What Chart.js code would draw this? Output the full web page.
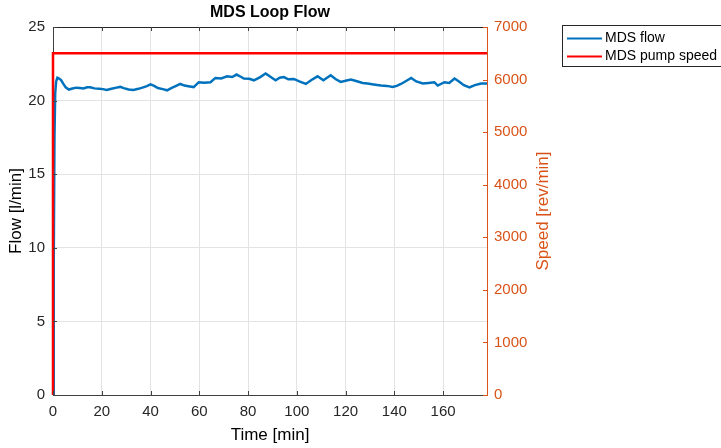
<!DOCTYPE html>
<html>
<head>
<meta charset="utf-8">
<script src="https://cdn.jsdelivr.net/npm/chart.js@4/dist/chart.umd.min.js"></script>
<style>
  html, body { margin: 0; padding: 0; background: #ffffff; }
  #wrap { width: 721px; height: 448px; }
</style>
</head>
<body>
<div id="wrap"><canvas id="c" width="721" height="448"></canvas></div>
<script>
// Logged loop flow (l/min) against elapsed time (min)
const timeMin = [0, 0.3, 0.6, 0.9, 1.3, 1.8, 2.5, 3.3, 4.2, 5.2, 6.5, 8, 9.5, 11, 12.5, 14, 15.2, 17, 19, 20.5,
  22, 24, 26, 27.6, 29, 31, 33, 35, 37, 38.5, 40, 41.5, 43, 45, 46.8, 48.5, 50.5, 52.2, 54, 55.5,
  57.7, 59.8, 62, 64.6, 66.6, 69, 71.4, 73.5, 75.3, 77, 78.3, 80.5, 82.4, 85, 87.2, 89.3, 91.3, 93, 94.7, 96.5,
  98.8, 101, 103.7, 106, 108.5, 110.9, 113.9, 116, 118, 120, 122.2, 125, 127, 129, 131.5, 134.5, 137, 139.3, 141, 142.7,
  145, 146.9, 149, 151.7, 154, 156.4, 157.8, 160.5, 162.5, 164.7, 166.5, 168.5, 170.8, 173, 175.6, 178];
const flowLpm = [0, 9, 17.5, 20.5, 21.3, 21.55, 21.5, 21.4, 21.15, 20.9, 20.75, 20.82, 20.88, 20.86, 20.82, 20.9, 20.9, 20.83, 20.8, 20.78,
  20.72, 20.8, 20.88, 20.93, 20.85, 20.75, 20.72, 20.8, 20.9, 20.98, 21.1, 21.0, 20.85, 20.78, 20.7, 20.85, 21.0, 21.13, 21.02, 20.98,
  20.92, 21.25, 21.22, 21.25, 21.54, 21.5, 21.65, 21.6, 21.77, 21.62, 21.5, 21.48, 21.38, 21.6, 21.84, 21.6, 21.38, 21.55, 21.6, 21.45,
  21.47, 21.3, 21.13, 21.4, 21.65, 21.38, 21.72, 21.45, 21.27, 21.35, 21.43, 21.3, 21.2, 21.16, 21.1, 21.02, 21.0, 20.93, 21.0, 21.13,
  21.35, 21.54, 21.3, 21.16, 21.2, 21.25, 21.02, 21.25, 21.2, 21.5, 21.3, 21.05, 20.9, 21.05, 21.16, 21.17];

// Pump speed setpoint (rev/min): steps straight up to 6500 at start
const speedTime = [0, 0, 178];
const speedRpm = [0, 6500, 6500];

// Axis ticks
const timeTicks = [0, 20, 40, 60, 80, 100, 120, 140, 160];
const flowTicks = [0, 5, 10, 15, 20, 25];
const speedTicks = [0, 1000, 2000, 3000, 4000, 5000, 6000, 7000];

const seriesNames = ['MDS flow', 'MDS pump speed'];
const BLUE = '#0072BD';
const RED = '#FF0000';
const ORANGE = '#D95319';
const INK = '#262626';
const FONT = '"Liberation Sans", Arial, Helvetica, sans-serif';

const pairs = (xs, ys) => xs.map((x, i) => ({ x: x, y: ys[i] }));

// Title, right-hand axis title, inward tick marks, box edge and legend
const decorations = {
  id: 'decorations',
  afterDatasetsDraw(chart) {
    const ctx = chart.ctx;
    const a = chart.chartArea;
    const sx = chart.scales.x, sl = chart.scales.yFlow, sr = chart.scales.ySpeed;
    ctx.save();

    // top edge of the box
    ctx.strokeStyle = INK;
    ctx.lineWidth = 1;
    ctx.beginPath();
    ctx.moveTo(a.left, a.top + 0.5);
    ctx.lineTo(a.right, a.top + 0.5);
    ctx.stroke();

    // inward tick marks
    const tl = 4;
    ctx.strokeStyle = '#404040';
    ctx.beginPath();
    timeTicks.forEach(t => {
      const px = Math.round(sx.getPixelForValue(t)) + 0.5;
      ctx.moveTo(px, a.bottom); ctx.lineTo(px, a.bottom - tl);
      ctx.moveTo(px, a.top); ctx.lineTo(px, a.top + tl);
    });
    flowTicks.forEach(v => {
      const py = Math.round(sl.getPixelForValue(v)) + 0.5;
      ctx.moveTo(a.left, py); ctx.lineTo(a.left + tl, py);
    });
    ctx.stroke();
    ctx.strokeStyle = ORANGE;
    ctx.beginPath();
    speedTicks.forEach(v => {
      const py = Math.round(sr.getPixelForValue(v)) + 0.5;
      ctx.moveTo(a.right, py); ctx.lineTo(a.right - tl, py);
    });
    ctx.stroke();

    // chart title
    ctx.fillStyle = '#000000';
    ctx.font = 'bold 16px ' + FONT;
    ctx.textAlign = 'center';
    ctx.textBaseline = 'middle';
    ctx.fillText('MDS Loop Flow', (a.left + a.right) / 2, 13);

    // right axis title, reading bottom to top
    ctx.save();
    ctx.translate(543, (a.top + a.bottom) / 2);
    ctx.rotate(-Math.PI / 2);
    ctx.fillStyle = ORANGE;
    ctx.font = '17px ' + FONT;
    ctx.fillText('Speed [rev/min]', 0, 0);
    ctx.restore();

    // legend box
    const lx = 562.5, ly = 25.5, lw = 160, lh = 41;
    ctx.fillStyle = '#ffffff';
    ctx.fillRect(lx, ly, lw, lh);
    ctx.strokeStyle = INK;
    ctx.lineWidth = 1;
    ctx.strokeRect(lx, ly, lw, lh);
    const colors = [BLUE, RED];
    ctx.font = '14px ' + FONT;
    ctx.textAlign = 'left';
    ctx.textBaseline = 'middle';
    seriesNames.forEach((name, i) => {
      const y = 38.5 + i * 18;
      ctx.strokeStyle = colors[i];
      ctx.lineWidth = 2;
      ctx.beginPath();
      ctx.moveTo(567, y); ctx.lineTo(602, y);
      ctx.stroke();
      ctx.fillStyle = '#000000';
      ctx.fillText(name, 605, y);
    });
    ctx.restore();
  }
};

// let the lines spill a little over the left edge of the plot area
const edgeClip = { left: 2, top: 0, right: 0, bottom: 0 };

new Chart(document.getElementById('c'), {
  type: 'line',
  data: {
    datasets: [
      {
        label: seriesNames[0],
        data: pairs(timeMin, flowLpm),
        yAxisID: 'yFlow',
        borderColor: BLUE,
        borderWidth: 2.5,
        pointRadius: 0,
        tension: 0,
        clip: edgeClip,
        order: 1
      },
      {
        label: seriesNames[1],
        data: pairs(speedTime, speedRpm),
        yAxisID: 'ySpeed',
        borderColor: RED,
        borderWidth: 2.5,
        pointRadius: 0,
        tension: 0,
        clip: edgeClip,
        order: 0
      }
    ]
  },
  options: {
    responsive: false,
    animation: false,
    layout: { padding: { top: 27, left: 0, right: 0, bottom: 0 } },
    plugins: {
      legend: { display: false },
      title: { display: false },
      tooltip: { enabled: false }
    },
    scales: {
      x: {
        type: 'linear',
        min: 0,
        max: 178,
        afterBuildTicks: s => { s.ticks = timeTicks.map(v => ({ value: v })); },
        afterFit: s => { s.height = 53; },
        grid: { color: '#e3e3e3', drawTicks: false },
        border: { color: '#404040', width: 1 },
        ticks: { color: INK, font: { family: FONT, size: 15 }, padding: 8, maxRotation: 0, callback: v => String(v) },
        title: { display: true, text: 'Time [min]', color: '#000000', font: { family: FONT, size: 17 }, padding: { top: 0, bottom: 2 } }
      },
      yFlow: {
        type: 'linear',
        position: 'left',
        min: 0,
        max: 25,
        afterBuildTicks: s => { s.ticks = flowTicks.map(v => ({ value: v })); },
        afterFit: s => { s.width = 53; },
        grid: { color: '#e3e3e3', drawTicks: false },
        border: { color: '#404040', width: 1 },
        ticks: { color: INK, font: { family: FONT, size: 15 }, padding: 8, callback: v => String(v) },
        title: { display: true, text: 'Flow [l/min]', color: '#000000', font: { family: FONT, size: 17 }, padding: { top: 6, bottom: 0 } }
      },
      ySpeed: {
        type: 'linear',
        position: 'right',
        min: 0,
        max: 7000,
        afterBuildTicks: s => { s.ticks = speedTicks.map(v => ({ value: v })); },
        afterFit: s => { s.width = 234; },
        grid: { display: false, drawTicks: false },
        border: { color: ORANGE, width: 1 },
        ticks: { color: ORANGE, font: { family: FONT, size: 15 }, padding: 7, callback: v => String(v) }
      }
    }
  },
  plugins: [decorations]
});
</script>
</body>
</html>
